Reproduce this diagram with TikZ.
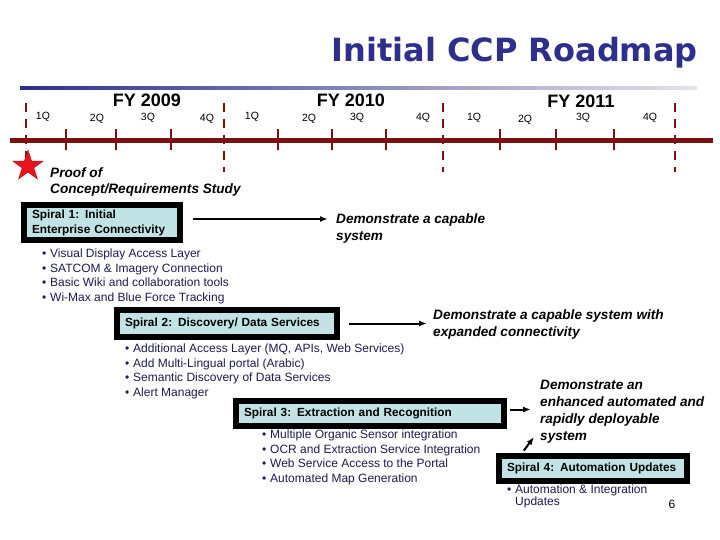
\documentclass[tikz,border=0pt]{standalone}
\usepackage{fontspec}
\setmainfont{Liberation Sans}
\newfontfamily\titlefont{DejaVu Sans}
\usepackage{tikz}
\usetikzlibrary{arrows.meta,positioning,shapes.geometric}
\definecolor{navy}{HTML}{2E2E8C}
\definecolor{maroon}{HTML}{7A1010}
\definecolor{paleblue}{HTML}{C2E3E6}
\definecolor{inkblue}{HTML}{1C1C4E}
\definecolor{fadegrey}{HTML}{E4E4EA}
\definecolor{starred}{HTML}{E8141C}
\newcommand{\bul}{\makebox[8pt][l]{\textbullet}}

\begin{document}
\begin{tikzpicture}[x=1pt,y=-1pt,
  quarter/.style={font=\fontsize{10.5}{12}\selectfont,inner sep=0pt},
  fy/.style={font=\fontsize{18}{20}\selectfont\bfseries,inner sep=0pt},
  tick/.style={draw=maroon,line width=2.6pt},
  yearline/.style={draw=maroon,line width=2.6pt,dash pattern=on 9pt off 7pt},
  spiral/.style={draw=black,line width=6pt,fill=paleblue,align=left,inner xsep=8pt,inner ysep=0pt,
    anchor=north west,font=\fontsize{11.8}{15}\selectfont\bfseries},
  demo/.style={anchor=north west,align=left,inner sep=0pt,font=\fontsize{13.6}{17}\selectfont\bfseries\itshape},
  bullets/.style={align=left,inner sep=0pt,text=inkblue,font=\fontsize{12}{14.4}\selectfont},
  arrow/.style={-{Latex[length=8pt,width=6pt]},line width=2pt}
]
\useasboundingbox (0,0) rectangle (720,540);
\fill[white] (0,0) rectangle (720,540);

% title and rule
\node[anchor=base east,inner sep=0pt,text=navy,font=\titlefont\fontsize{32}{36}\selectfont\bfseries] (title) at (698,62) {Initial CCP Roadmap};
\shade[left color=navy,right color=fadegrey] (20,86.5) rectangle (697,89.5);

% time line
\draw[maroon,line width=5pt] (10,140.5) -- (713,140.5);
\foreach \x in {66,116,171,278,332,386,500,556,614}
  \draw[tick] (\x,129) -- (\x,150);
\foreach \x in {26,224,443,675}
  \draw[yearline] (\x,103) -- (\x,172);

\node[fy] (fy09) at (147,100) {FY 2009};
\node[fy] (fy10) at (351,100) {FY 2010};
\node[fy] (fy11) at (581,101) {FY 2011};

\foreach \x/\y/\q [count=\i] in {43/117/1Q,97/119/2Q,148/118/3Q,207/119/4Q,
    252/117/1Q,309/119/2Q,357/118/3Q,423/118/4Q,
    474/118/1Q,525/120/2Q,583/118/3Q,650/118/4Q}
  \node[quarter] (q\i) at (\x,\y) {\q};

\node[star,star points=5,star point ratio=2.6,fill=starred,draw=starred!70!black,minimum size=32pt,inner sep=0pt] (start) at (28,166) {};
\node[demo,font=\fontsize{13.6}{16.5}\selectfont\bfseries\itshape] (proof) at (50,167) {Proof of\\Concept/Requirements Study};

% spirals
\node[spiral,text width=140pt,minimum height=35pt] (s1) at (21,202) {Spiral 1: Initial\\Enterprise Connectivity};
\node[spiral,text width=204pt,minimum height=27pt] (s2) at (114,307) {Spiral 2: Discovery/ Data Services};
\node[spiral,text width=252pt,minimum height=25pt] (s3) at (233,398) {Spiral 3: Extraction and Recognition};
\node[spiral,text width=172pt,minimum height=25pt] (s4) at (496,453) {Spiral 4: Automation Updates};

\node[bullets,below right=6pt and 21pt of s1.south west] (b1) {\bul Visual Display Access Layer\\\bul SATCOM \& Imagery Connection\\\bul Basic Wiki and collaboration tools\\\bul Wi-Max and Blue Force Tracking};
\node[bullets,below right=4pt and 11pt of s2.south west] (b2) {\bul Additional Access Layer (MQ, APIs, Web Services)\\\bul Add Multi-Lingual portal (Arabic)\\\bul Semantic Discovery of Data Services\\\bul Alert Manager};
\node[bullets,below right=1pt and 29pt of s3.south west] (b3) {\bul Multiple Organic Sensor integration\\\bul OCR and Extraction Service Integration\\\bul Web Service Access to the Portal\\\bul Automated Map Generation};
\node[bullets,font=\fontsize{12}{12}\selectfont,below right=1pt and 11pt of s4.south west] (b4) {\bul Automation \& Integration\\\hspace*{8pt}Updates};

% outcomes
\node[demo] (d1) at (336,213) {Demonstrate a capable\\system};
\node[demo] (d2) at (433,309) {Demonstrate a capable system with\\expanded connectivity};
\node[demo] (d3) at (540,380) {Demonstrate an\\enhanced automated and\\rapidly deployable\\system};

\coordinate (a1) at ([yshift=3.5pt]s1.east);
\coordinate (a2) at (s2.east);
\coordinate (a3) at ([yshift=4pt]s3.east);
\coordinate (a4) at ([xshift=-71pt]s4.north);
\coordinate (tip4) at (534,437);
\draw[arrow,shorten <=10pt,shorten >=8pt] (a1) -- (a1 -| d1.west);
\draw[arrow,shorten <=9pt,shorten >=6pt] (a2) -- (a2 -| d2.west);
\draw[arrow,shorten <=3pt,shorten >=9pt] (a3) -- (a3 -| d3.west);
\draw[arrow,shorten <=3pt] (a4) -- (tip4);

\node[font=\fontsize{12}{14}\selectfont,inner sep=0pt] (page) at (672,504) {6};
\end{tikzpicture}
\end{document}
